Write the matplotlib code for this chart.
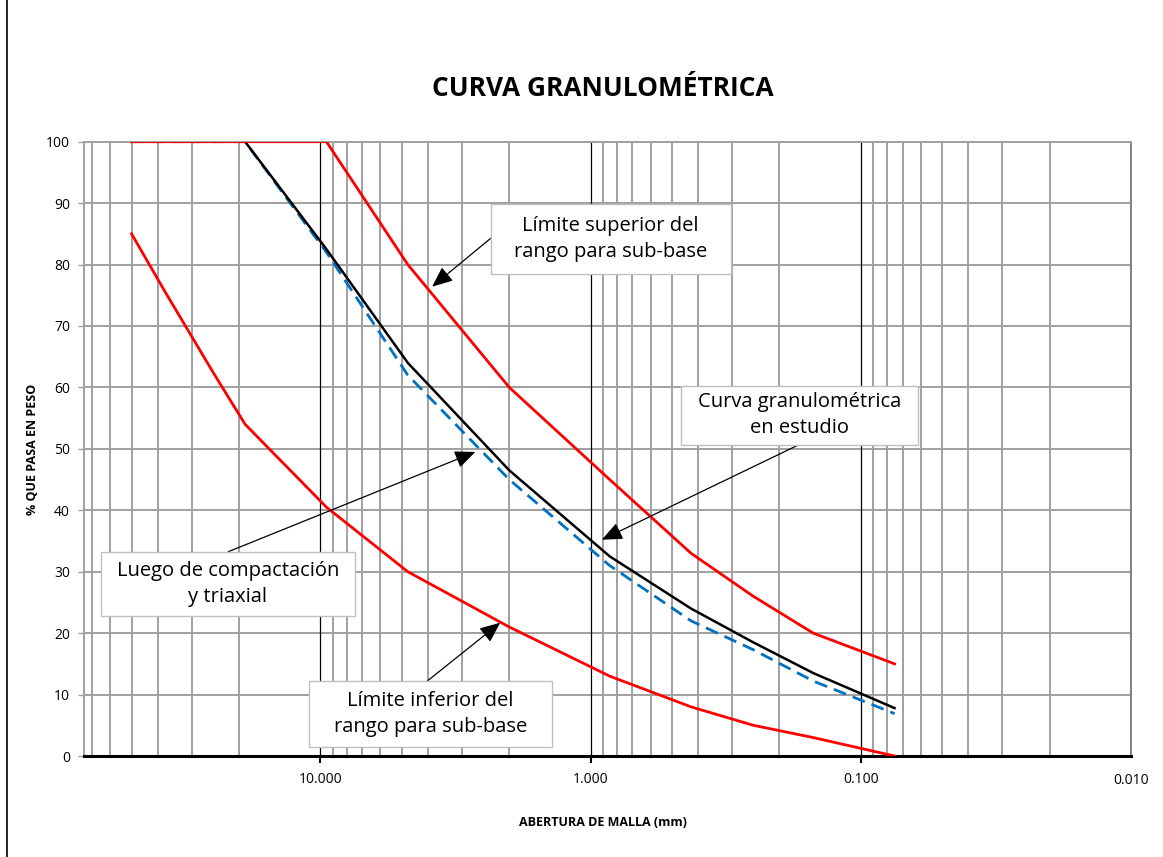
import numpy as np
import matplotlib
matplotlib.use("Agg")
import matplotlib.pyplot as plt
from matplotlib.patches import Rectangle
from matplotlib.lines import Line2D

plt.rcParams['font.family'] = ['Open Sans', 'DejaVu Sans']

# ---- data ----
sieve_mm = [50.0, 37.5, 25.0, 19.0, 9.5, 4.75, 2.0, 0.85, 0.425, 0.25, 0.15, 0.075]
upper_limit = [100, 100, 100, 100, 100, 80, 60, 45, 33, 26, 20, 15]
lower_limit = [85, 75.5, 62.5, 54, 40.5, 30, 21, 13, 8, 5, 3, 0]
study_curve = [100, 100, 100, 100, 82.5, 64, 46.5, 32.5, 24, 18.5, 13.5, 7.8]
after_compaction = [100, 100, 100, 100, 82, 62, 45, 31, 22, 17.3, 12.2, 6.9]

x_ticks = [10.0, 1.0, 0.1, 0.01]
x_tick_labels = ["10.000", "1.000", "0.100", "0.010"]
y_ticks = list(range(0, 101, 10))

W, H = 1163, 857
fig = plt.figure(figsize=(W / 100, H / 100), dpi=100)

def fx(px):
    return px / W

def fy(py):
    return 1 - py / H

L, R, T, B = 84, 1131, 141.7, 756
ax = fig.add_axes([fx(L), fy(B), fx(R) - fx(L), fy(T) - fy(B)])

ax.set_xscale('log')
ax.set_xlim(75, 0.01)
ax.set_ylim(0, 100)

# grid
GRID = '#a0a0a0'
minor_pos = []
for dec in [0.01, 0.1, 1, 10]:
    for k in range(2, 10):
        v = k * dec
        if 0.01 < v < 75:
            minor_pos.append(v)
for v in minor_pos:
    ax.axvline(v, color=GRID, lw=1.4, zorder=1)
for v in [10, 1, 0.1]:
    ax.axvline(v, color='#000000', lw=0.9, zorder=1.2)
for v in y_ticks[1:]:
    ax.axhline(v, color=GRID, lw=1.4, zorder=1)

# curves
ax.plot(sieve_mm, after_compaction, color='#0070C0', lw=2.0, ls=(0, (4.7, 2.6)), zorder=3,
        solid_capstyle='butt', dash_capstyle='butt')
ax.plot(sieve_mm, study_curve, color='black', lw=1.8, zorder=3.5)
ax.plot(sieve_mm, upper_limit, color='#FF0000', lw=2.0, zorder=4)
ax.plot(sieve_mm, lower_limit, color='#FF0000', lw=2.0, zorder=4)

# axes style
ax.set_xticks(x_ticks[:-1])
ax.set_xticklabels(x_tick_labels[:-1])
ax.minorticks_off()
ax.tick_params(axis='x', which='major', direction='out', length=5, width=1.5, color='black',
               labelsize=10, pad=6.5)
ax.set_yticks(y_ticks)
ax.tick_params(axis='y', direction='out', length=4, width=1, color=GRID, labelsize=10, pad=6)
ax.text(0.01, -0.027, x_tick_labels[-1], transform=ax.get_xaxis_transform(),
        ha='center', va='top', fontsize=10)
for s in ['top', 'left', 'right']:
    ax.spines[s].set_color(GRID)
    ax.spines[s].set_linewidth(1.4)
ax.spines['right'].set_color('#808080')
ax.spines['bottom'].set_color('black')
ax.spines['bottom'].set_linewidth(2.2)

# labels
fig.text(fx(603), fy(88), "CURVA GRANULOMÉTRICA", ha='center', va='center',
         fontsize=18.9, fontweight='bold')
fig.text(fx(603), fy(823), "ABERTURA DE MALLA (mm)", ha='center', va='center',
         fontsize=9, fontweight='bold')
fig.text(fx(33), fy(449), "% QUE PASA EN PESO", ha='center', va='center',
         fontsize=9, fontweight='bold', rotation=90)

# annotation boxes: (left, top, right, bottom) px, text, tail px, tip data
boxes = [
    ((490.7, 204, 730.7, 274), "Límite superior del\nrango para sub-base", (490.7, 238.3), (3.86, 76.4)),
    ((681, 386, 918, 445), "Curva granulométrica\nen estudio", (798.3, 445), (0.909, 35.2)),
    ((100.7, 551.7, 355, 616), "Luego de compactación\ny triaxial", (228.3, 551.7), (2.67, 49.5)),
    ((308.7, 680.7, 552, 746.7), "Límite inferior del\nrango para sub-base", (427.7, 680.7), (2.16, 21.7)),
]
for (l, t, r, b), txt, tail, tip in boxes:
    rect = Rectangle((fx(l), fy(b)), fx(r) - fx(l), fy(t) - fy(b), transform=fig.transFigure,
                     facecolor='white', edgecolor='#bfbfbf', lw=1.0, zorder=5)
    fig.patches.append(rect)
    fig.text(fx((l + r) / 2), fy((t + b) / 2), txt, ha='center', va='center',
             fontsize=14.5, linespacing=1.4, zorder=6)
    ax.annotate("", xy=tip, xycoords='data', xytext=(fx(tail[0]), fy(tail[1])),
                textcoords='figure fraction',
                arrowprops=dict(arrowstyle='-|>,head_length=0.7,head_width=0.3', color='black',
                                lw=0.9, mutation_scale=18, shrinkA=0, shrinkB=0),
                zorder=6, annotation_clip=False)

# outer frame line (left)
fig.add_artist(Line2D([fx(7), fx(7)], [fy(0), fy(857)], color='black', lw=1.2))

fig.savefig("out.png", dpi=100)
